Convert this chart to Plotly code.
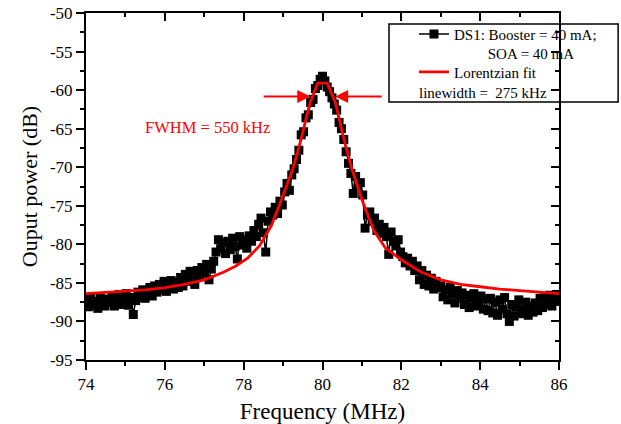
import numpy as np
import plotly.graph_objects as go

# ---- data ----
freq_mhz = np.round(np.linspace(74, 86, 201), 2)
power_db = [
    -87.2, -88.1, -86.9, -87.9, -87.4, -88.3, -86.8, -87.7, -88.0, -87.1,
    -87.6, -86.7, -88.0, -87.2, -86.5, -87.8, -87.0, -86.4, -87.9, -86.9,
    -89.1, -87.3, -86.2, -86.9, -85.9, -87.0, -86.0, -85.6, -86.7, -85.4,
    -86.2, -85.2, -85.9, -84.8, -86.1, -85.5, -84.7, -85.8, -84.9, -85.6,
    -84.3, -85.4, -83.9, -84.8, -83.5, -84.6, -85.2, -83.4, -84.1, -83.0,
    -83.7, -82.6, -84.6, -83.2, -82.2, -81.0, -79.4, -80.6, -79.8, -81.2,
    -79.6, -80.7, -79.2, -80.3, -81.9, -79.0, -80.1, -79.4, -80.5, -78.9,
    -79.6, -78.2, -79.0, -77.4, -76.6, -78.5, -81.0, -77.0, -75.8, -76.2,
    -75.2, -76.0, -74.4, -74.9, -73.2, -72.1, -73.0, -71.0, -70.2, -69.0,
    -67.8, -65.8, -65.4, -63.6, -63.2, -61.6, -61.2, -59.8, -59.4, -58.6,
    -58.2, -58.8, -59.6, -60.2, -61.0, -61.8, -62.6, -64.2, -65.0, -66.4,
    -68.0, -69.5, -70.8, -73.4, -71.2, -72.4, -72.0, -73.6, -77.9, -76.2,
    -75.8, -77.0, -76.6, -78.2, -77.4, -78.6, -77.8, -79.0, -81.3, -78.4,
    -79.6, -80.2, -79.4, -81.0, -81.6, -82.4, -81.8, -82.8, -82.2, -83.4,
    -82.8, -84.6, -83.4, -85.2, -84.0, -85.4, -84.4, -85.8, -84.8, -85.6,
    -85.4, -86.8, -85.9, -87.2, -85.6, -86.4, -87.6, -86.0, -87.0, -86.3,
    -87.8, -86.6, -88.2, -87.0, -86.4, -88.0, -87.3, -86.7, -88.4, -87.1,
    -88.6, -87.0, -88.9, -87.5, -89.2, -87.2, -88.4, -86.9, -89.0, -90.0,
    -87.8, -89.3, -88.1, -87.2, -89.0, -88.4, -87.5, -89.2, -88.0, -88.8,
    -87.6, -88.6, -87.0, -88.2, -86.8, -87.8, -86.6, -88.0, -87.2, -86.5,
    -87.4,
]

fit_freq_mhz = [74.0, 75.0, 75.5, 76.0, 76.5, 77.0, 77.5, 77.8, 78.1, 78.4,
                78.7, 78.9, 79.1, 79.25, 79.45, 79.68, 79.88, 80.12, 80.33,
                80.55, 80.75, 81.0, 81.3, 81.6, 82.0, 82.5, 83.0, 83.5, 84.0,
                84.5, 85.0, 85.5, 86.0]
fit_power_db = [-86.4, -86.1, -85.9, -85.6, -85.2, -84.6, -83.6, -82.8, -81.8,
                -80.2, -77.6, -75.0, -72.4, -70.2, -66.5, -61.7, -59.1, -59.1,
                -61.7, -66.5, -70.3, -74.2, -78.2, -80.5, -82.0, -83.6, -84.6,
                -85.2, -85.5, -85.8, -86.0, -86.2, -86.4]

x_ticks = [74, 76, 78, 80, 82, 84, 86]
x_ticklabels = ["74", "76", "78", "80", "82", "84", "86"]
y_ticks = [-95, -90, -85, -80, -75, -70, -65, -60, -55, -50]
y_ticklabels = ["-95", "-90", "-85", "-80", "-75", "-70", "-65", "-60", "-55", "-50"]

data_name = "DS1: Booster = 40 mA;<br>" + "\u00a0" * 9 + "SOA = 40 mA"
fit_name = "Lorentzian fit"
fit_note = "linewidth =  275 kHz"
fwhm_text = "FWHM = 550 kHz"

FONT = "Liberation Serif"
RED = "#ff0000"

fig = go.Figure()
fig.add_trace(go.Scatter(
    x=freq_mhz, y=power_db, mode="lines+markers", name=data_name,
    legend="legend",
    line=dict(color="black", width=1.5),
    marker=dict(symbol="square", size=9, color="black"),
))
fig.add_trace(go.Scatter(
    x=fit_freq_mhz, y=fit_power_db, mode="lines", name=fit_name,
    legend="legend2",
    line=dict(color=RED, width=2.8),
))
# invisible trace to activate the mirror axes
fig.add_trace(go.Scatter(
    x=freq_mhz, y=power_db, xaxis="x2", yaxis="y2", mode="markers",
    marker=dict(opacity=0), showlegend=False, hoverinfo="skip",
))

axis_common = dict(showgrid=False, zeroline=False, showline=True,
                   linecolor="black", linewidth=2, tickcolor="black",
                   tickwidth=1.5, ticklen=8, automargin=False)
legend_common = dict(xanchor="left", yanchor="top", bgcolor="rgba(0,0,0,0)",
                     borderwidth=0, valign="top",
                     font=dict(family=FONT, size=15, color="black"))
fig.update_layout(
    width=621, height=424,
    margin=dict(l=86, r=62, t=13, b=64, autoexpand=False),
    paper_bgcolor="white", plot_bgcolor="white",
    font=dict(family=FONT, color="black"),
    xaxis=dict(range=[74, 86], tickvals=x_ticks, ticktext=x_ticklabels,
               ticks="outside", tickfont=dict(size=17),
               minor=dict(dtick=1, ticks="outside", ticklen=4, tickwidth=1.5,
                          tickcolor="black"),
               title=dict(text="Frequency (MHz)", font=dict(size=23), standoff=9),
               **axis_common),
    yaxis=dict(range=[-95, -50], tickvals=y_ticks, ticktext=y_ticklabels,
               ticks="outside", tickfont=dict(size=17),
               minor=dict(dtick=2.5, ticks="outside", ticklen=4, tickwidth=1.5,
                          tickcolor="black"),
               title=dict(text="Ouput power (dB)", font=dict(size=22), standoff=6),
               **axis_common),
    xaxis2=dict(range=[74, 86], overlaying="x", side="top", anchor="y",
                tickvals=x_ticks, showticklabels=False, ticks="inside",
                minor=dict(dtick=1, ticks="inside", ticklen=4, tickwidth=1.5,
                           tickcolor="black"),
                **axis_common),
    yaxis2=dict(range=[-95, -50], overlaying="y", side="right", anchor="x",
                tickvals=y_ticks, showticklabels=False, ticks="inside",
                minor=dict(dtick=2.5, ticks="inside", ticklen=4, tickwidth=1.5,
                           tickcolor="black"),
                **axis_common),
    showlegend=True,
    legend=dict(x=0.6934, y=0.9865, **legend_common),
    legend2=dict(x=0.6934, y=0.877, **legend_common),
)

# legend frame and extra line
fig.add_shape(type="rect", xref="paper", yref="paper",
              x0=0.6406, x1=1.125, y0=0.7435, y1=0.9683,
              line=dict(color="black", width=1.5), fillcolor="rgba(0,0,0,0)")
fig.add_annotation(text=fit_note, xref="paper", yref="paper", x=0.6998, y=0.7695,
                   xanchor="left", yanchor="middle", showarrow=False,
                   font=dict(family=FONT, size=15, color="black"))

# FWHM label and arrows
fig.add_annotation(text=fwhm_text, x=77.07, y=-64.9, xref="x", yref="y",
                   showarrow=False, font=dict(family=FONT, size=16.5, color=RED))
arrow_y = -60.83
for head_x, tail_x in [(79.69, 78.47), (80.32, 81.54)]:
    fig.add_annotation(x=head_x, y=arrow_y, ax=tail_x, ay=arrow_y,
                       xref="x", yref="y", axref="x", ayref="y", text="",
                       showarrow=True, arrowhead=2, arrowsize=1.3,
                       arrowwidth=2, arrowcolor=RED)

fig.write_html("out.html",
               config={"displayModeBar": False},
               post_script="document.body.style.margin='0';"
                           "document.body.style.overflow='hidden';")
